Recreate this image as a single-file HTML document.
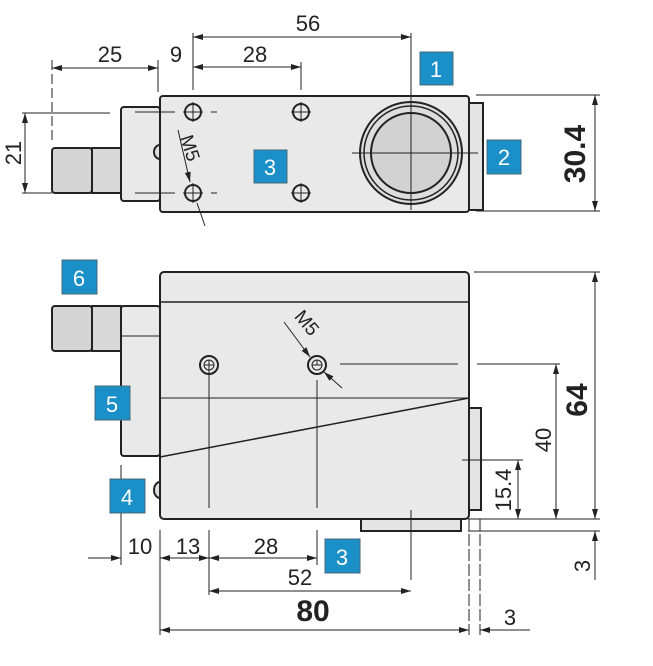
<!DOCTYPE html>
<html><head><meta charset="utf-8"><style>
html,body{margin:0;padding:0;background:#fff;width:653px;height:666px;overflow:hidden}
text{font-family:"Liberation Sans",sans-serif;fill:#222}
.b{fill:#1a8fc8;stroke:#4a6a7a;stroke-width:1}
.bt{fill:#fff;font-size:22px;text-anchor:middle}
</style></head><body>
<svg width="653" height="666" viewBox="0 0 653 666" xmlns="http://www.w3.org/2000/svg">
<defs>
<marker id="a" viewBox="0 0 10 6" refX="10" refY="3" markerWidth="10" markerHeight="6" orient="auto-start-reverse" markerUnits="userSpaceOnUse"><path d="M0,0L10,3L0,6z" fill="#222"/></marker>
</defs>
<g stroke="#222" stroke-width="1" fill="none">
<!-- TOP VIEW -->
<rect x="121" y="107" width="39" height="94" rx="3" fill="#e9e9e9" stroke-width="2"/>
<rect x="52" y="148" width="40" height="45" rx="3" fill="#d4d4d4" stroke-width="2"/>
<rect x="92" y="148" width="29" height="45" fill="#d8d8d8" stroke-width="2"/>
<path d="M160,145 a6,7 0 0 0 0,14" fill="#ddd" stroke-width="2"/>
<rect x="160" y="96" width="309" height="116" rx="3" fill="#e9e9e9" stroke-width="2"/>
<rect x="469" y="103" width="14" height="107" fill="#e4e4e4" stroke-width="2"/>
<circle cx="411" cy="153" r="51" fill="#ddd" stroke-width="2"/>
<circle cx="411" cy="153" r="47" stroke-width="1.5"/>
<circle cx="411" cy="153" r="40" fill="#d2d2d2" stroke-width="2"/>
<line x1="352" y1="153" x2="478" y2="153"/><line x1="411" y1="33" x2="411" y2="210"/>
<g stroke-width="2">
<circle cx="193" cy="112" r="8"/><circle cx="301" cy="112" r="8"/><circle cx="193" cy="193" r="8"/><circle cx="301" cy="193" r="8"/>
</g>
<path d="M183,112h20M193,102v20M291,112h20M301,102v20M183,193h20M193,183v20M291,193h20M301,183v20"/>
<path d="M135,112h40M135,193h40M211,193h6M211,112h6"/>
<line x1="178" y1="130" x2="190" y2="182" marker-end="url(#a)"/><line x1="197" y1="203" x2="205" y2="226"/>
<line x1="193" y1="33" x2="193" y2="90"/>
<line x1="193" y1="37" x2="411" y2="37" marker-start="url(#a)" marker-end="url(#a)"/>
<line x1="301" y1="62" x2="301" y2="90"/>
<line x1="193" y1="67" x2="301" y2="67" marker-start="url(#a)" marker-end="url(#a)"/>
<line x1="52" y1="60" x2="52" y2="140" stroke-dasharray="10 4"/>
<line x1="158" y1="60" x2="158" y2="92"/>
<line x1="52" y1="68" x2="158" y2="68" marker-start="url(#a)" marker-end="url(#a)"/>
<line x1="22" y1="113" x2="110" y2="113"/><line x1="22" y1="193" x2="52" y2="193"/>
<line x1="25" y1="113" x2="25" y2="193" marker-start="url(#a)" marker-end="url(#a)"/>
<line x1="476" y1="95" x2="600" y2="95"/><line x1="476" y1="211" x2="600" y2="211"/>
<line x1="595" y1="95" x2="595" y2="211" marker-start="url(#a)" marker-end="url(#a)"/>
<!-- BOTTOM VIEW -->
<rect x="121" y="306" width="39" height="150" rx="3" fill="#e9e9e9" stroke-width="2"/>
<line x1="121" y1="336" x2="160" y2="336"/>
<rect x="52" y="306" width="40" height="45" rx="3" fill="#d4d4d4" stroke-width="2"/>
<rect x="92" y="306" width="29" height="45" fill="#d8d8d8" stroke-width="2"/>
<path d="M160,482 a6,8 0 0 0 0,16" fill="#ddd" stroke-width="2"/>
<rect x="361" y="519" width="100" height="12" fill="#e4e4e4" stroke-width="2"/>
<rect x="469" y="408" width="12" height="102" fill="#e4e4e4" stroke-width="2"/>
<rect x="160" y="272" width="309" height="247" rx="4" fill="#e9e9e9" stroke-width="2"/>
<line x1="160" y1="302" x2="469" y2="302" stroke-width="1.5"/>
<line x1="160" y1="398" x2="469" y2="398"/>
<line x1="160" y1="457" x2="469" y2="398" stroke-width="1.5"/>
<g stroke-width="2"><circle cx="209" cy="365" r="9"/><circle cx="317" cy="365" r="9"/></g>
<circle cx="209" cy="365" r="5"/><circle cx="317" cy="365" r="5"/>
<path d="M209,360v5M204,365h10M312,365h10M317,360v5"/>
<line x1="209" y1="365" x2="209" y2="508"/><line x1="317" y1="380" x2="317" y2="508"/>
<line x1="340" y1="364" x2="458" y2="364"/>
<line x1="284" y1="322" x2="310" y2="357" marker-end="url(#a)"/><line x1="324" y1="372" x2="342" y2="388" marker-start="url(#a)"/>
<line x1="462" y1="460" x2="523" y2="460"/>
<line x1="411" y1="510" x2="411" y2="580"/>
<line x1="474" y1="272" x2="600" y2="272"/><line x1="468" y1="519" x2="600" y2="519"/>
<line x1="595" y1="272" x2="595" y2="519" marker-start="url(#a)" marker-end="url(#a)"/>
<line x1="477" y1="364" x2="560" y2="364"/>
<line x1="556" y1="364" x2="556" y2="519" marker-start="url(#a)" marker-end="url(#a)"/>
<line x1="518" y1="460" x2="518" y2="519" marker-start="url(#a)" marker-end="url(#a)"/>
<line x1="468" y1="531" x2="600" y2="531"/>
<line x1="595" y1="580" x2="595" y2="531" marker-end="url(#a)"/>
<line x1="469" y1="519" x2="469" y2="635" stroke-dasharray="12 3"/>
<line x1="480" y1="519" x2="480" y2="635" stroke-dasharray="12 3"/>
<line x1="121" y1="465" x2="121" y2="565"/>
<line x1="160" y1="530" x2="160" y2="635"/>
<line x1="209" y1="530" x2="209" y2="595"/>
<line x1="317" y1="530" x2="317" y2="565"/>
<line x1="88" y1="558" x2="121" y2="558" marker-end="url(#a)"/>
<line x1="160" y1="558" x2="209" y2="558" marker-start="url(#a)" marker-end="url(#a)"/>
<line x1="209" y1="558" x2="317" y2="558" marker-start="url(#a)" marker-end="url(#a)"/>
<line x1="209" y1="591" x2="411" y2="591" marker-start="url(#a)" marker-end="url(#a)"/>
<line x1="160" y1="630" x2="469" y2="630" marker-start="url(#a)" marker-end="url(#a)"/>
<line x1="530" y1="630" x2="480" y2="630" marker-end="url(#a)"/>
</g>
<!-- text -->
<g font-size="22">
<text x="308" y="31" text-anchor="middle">56</text>
<text x="255" y="62" text-anchor="middle">28</text>
<text x="110" y="62" text-anchor="middle">25</text>
<text x="176" y="62" text-anchor="middle">9</text>
<text transform="translate(21,153) rotate(-90)" text-anchor="middle">21</text>
<text transform="translate(184,150) rotate(72)" font-size="19" text-anchor="middle">M5</text>
<text transform="translate(302,327) rotate(50)" font-size="19" text-anchor="middle">M5</text>
<text transform="translate(551,440) rotate(-90)" text-anchor="middle">40</text>
<text transform="translate(511,490) rotate(-90)" text-anchor="middle">15.4</text>
<text transform="translate(590,566) rotate(-90)" text-anchor="middle">3</text>
<text x="140" y="554" text-anchor="middle">10</text>
<text x="188" y="554" text-anchor="middle">13</text>
<text x="266" y="554" text-anchor="middle">28</text>
<text x="300" y="585" text-anchor="middle">52</text>
<text x="510" y="625" text-anchor="middle">3</text>
</g>
<text transform="translate(585,154) rotate(-90)" font-size="30" font-weight="bold" text-anchor="middle">30.4</text>
<text transform="translate(587,400) rotate(-90)" font-size="30" font-weight="bold" text-anchor="middle">64</text>
<text x="313" y="621" font-size="30" font-weight="bold" text-anchor="middle">80</text>
<!-- badges -->
<rect class="b" x="420" y="52" width="33" height="33"/><text class="bt" x="436" y="77">1</text>
<rect class="b" x="487" y="140" width="34" height="34"/><text class="bt" x="504" y="165">2</text>
<rect class="b" x="254" y="150" width="33" height="33"/><text class="bt" x="270" y="175">3</text>
<rect class="b" x="62" y="260" width="35" height="34"/><text class="bt" x="79" y="286">6</text>
<rect class="b" x="95" y="386" width="35" height="34"/><text class="bt" x="112" y="412">5</text>
<rect class="b" x="110" y="479" width="35" height="34"/><text class="bt" x="127" y="505">4</text>
<rect class="b" x="325" y="539" width="35" height="34"/><text class="bt" x="342" y="565">3</text>
</svg>
</body></html>
